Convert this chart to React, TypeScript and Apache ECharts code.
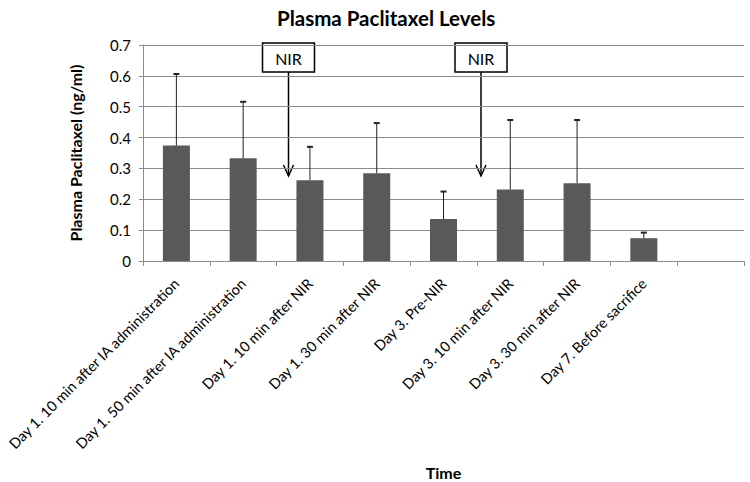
import React, { useEffect, useRef } from "react";
import * as echarts from "echarts";

const categories = [
  "Day 1. 10 min after IA administration",
  "Day 1. 50 min after IA administration",
  "Day 1. 10 min after NIR",
  "Day 1. 30 min after NIR",
  "Day 3. Pre-NIR",
  "Day 3. 10 min after NIR",
  "Day 3. 30 min after NIR",
  "Day 7. Before sacrifice",
  "",
];
const means = [0.374, 0.333, 0.262, 0.284, 0.136, 0.232, 0.252, 0.074];
const upper = [0.606, 0.516, 0.37, 0.447, 0.225, 0.457, 0.457, 0.092];
const yTicks = [0, 0.1, 0.2, 0.3, 0.4, 0.5, 0.6, 0.7];

const FONT = "Lato, 'Open Sans', sans-serif";

function nirBox(cx: number, top: number, tipY: number) {
  const w = 52;
  const h = 29;
  return [
    {
      type: "line",
      shape: { x1: cx, y1: top + h, x2: cx, y2: tipY },
      style: { stroke: "#000", lineWidth: 1.5 },
    },
    {
      type: "polyline",
      shape: { points: [[cx - 5, tipY - 11], [cx, tipY], [cx + 5, tipY - 11]] },
      style: { stroke: "#000", lineWidth: 1.5, fill: null },
    },
    {
      type: "rect",
      shape: { x: cx - w / 2, y: top, width: w, height: h },
      style: { fill: "#fff", stroke: "#000", lineWidth: 1.5 },
    },
    {
      type: "text",
      x: cx,
      y: top + h / 2 + 1,
      style: {
        text: "NIR",
        fill: "#000",
        font: `16px ${FONT}`,
        align: "center",
        verticalAlign: "middle",
      },
    },
  ];
}

export default function App() {
  const ref = useRef<HTMLDivElement>(null);
  useEffect(() => {
    document.body.style.margin = "0";
    const chart = echarts.init(ref.current!, null, { renderer: "svg" });
    const errData = means.map((m, i) => [i, m, upper[i]]);
    chart.setOption({
      animation: false,
      backgroundColor: "#fff",
      title: {
        text: "Plasma Paclitaxel Levels",
        left: 272,
        top: 2,
        textStyle: { fontFamily: FONT, fontSize: 20.5, fontWeight: "bold", color: "#000" },
      },
      grid: { left: 143, right: 6, top: 45, bottom: 221, containLabel: false },
      xAxis: {
        type: "category",
        data: categories,
        boundaryGap: true,
        name: "Time",
        nameLocation: "middle",
        nameGap: 203,
        nameTextStyle: { fontFamily: FONT, fontSize: 16, fontWeight: "bold", color: "#000" },
        axisLine: { lineStyle: { color: "#8c8c8c", width: 1 } },
        axisTick: { show: true, interval: 0, length: 5, lineStyle: { color: "#8c8c8c" } },
        axisLabel: {
          interval: 0,
          rotate: 45,
          margin: 20,
          fontFamily: FONT,
          fontSize: 14.5,
          color: "#000",
        },
      },
      yAxis: {
        type: "value",
        min: 0,
        max: 0.7,
        interval: 0.1,
        name: "Plasma Paclitaxel (ng/ml)",
        nameLocation: "middle",
        nameGap: 60,
        nameTextStyle: { fontFamily: FONT, fontSize: 16, fontWeight: "bold", color: "#000" },
        axisLine: { show: true, lineStyle: { color: "#8c8c8c", width: 1 } },
        axisTick: { show: true, length: 4, lineStyle: { color: "#8c8c8c" } },
        splitLine: { show: true, lineStyle: { color: "#8c8c8c", width: 1 } },
        axisLabel: {
          margin: 12,
          fontFamily: FONT,
          fontSize: 15,
          color: "#000",
          formatter: (v: number) => {
            const t = yTicks.find((y) => Math.abs(y - v) < 1e-9);
            return t === undefined ? "" : t === 0 ? "0" : String(Math.round(t * 10) / 10);
          },
        },
      },
      series: [
        {
          type: "bar",
          data: means,
          barWidth: 27,
          itemStyle: { color: "#595959" },
          z: 2,
        },
        {
          type: "custom",
          data: errData,
          z: 3,
          renderItem: (params: any, api: any) => {
            const i = api.value(0);
            const base = api.coord([i, api.value(1)]);
            const top = api.coord([i, api.value(2)]);
            return {
              type: "group",
              children: [
                {
                  type: "line",
                  shape: { x1: base[0], y1: base[1], x2: top[0], y2: top[1] },
                  style: { stroke: "#222", lineWidth: 1 },
                },
                {
                  type: "line",
                  shape: { x1: top[0] - 3, y1: top[1], x2: top[0] + 3, y2: top[1] },
                  style: { stroke: "#222", lineWidth: 2 },
                },
              ],
            };
          },
        },
      ],
      graphic: [...nirBox(288.5, 43, 176), ...nirBox(481, 43, 176)],
    });
    return () => chart.dispose();
  }, []);
  return (
    <div
      ref={ref}
      style={{ width: 750, height: 482, position: "absolute", left: 0, top: 0 }}
    />
  );
}
